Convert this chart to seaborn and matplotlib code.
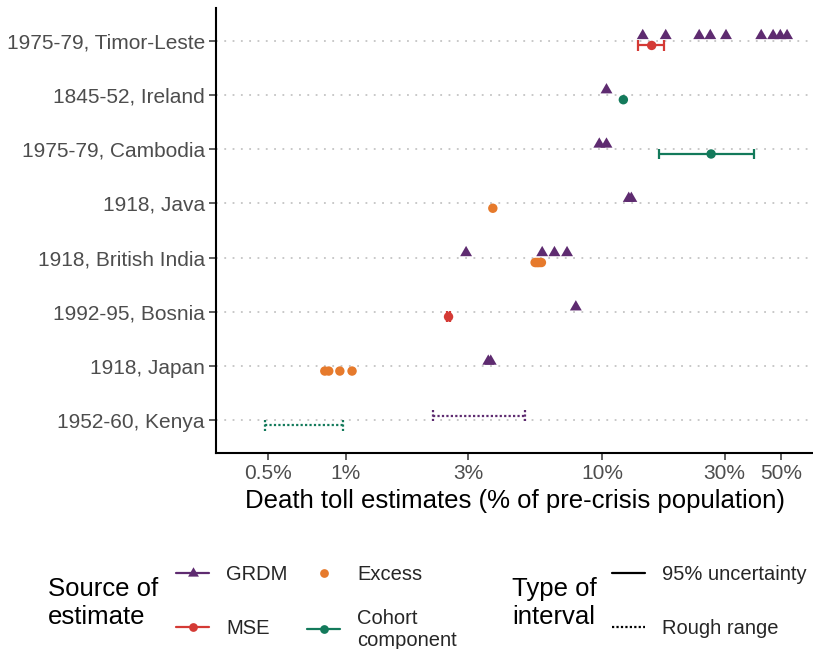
import numpy as np
import pandas as pd
import matplotlib
matplotlib.use("Agg")
import matplotlib.pyplot as plt
from matplotlib.lines import Line2D
from matplotlib.ticker import FixedLocator, FuncFormatter, NullLocator
import seaborn as sns

# ---------------- data ----------------
events = ["1975-79, Timor-Leste", "1845-52, Ireland", "1975-79, Cambodia", "1918, Java",
          "1918, British India", "1992-95, Bosnia", "1918, Japan", "1952-60, Kenya"]

source_order = ["GRDM", "Excess", "MSE", "Cohort component"]
source_colors = ["#5E2B70", "#E67A2C", "#D43A35", "#137A5B"]

# point estimates (% of pre-crisis population)
pt_event = (["1975-79, Timor-Leste"] * 9 + ["1975-79, Timor-Leste"]
            + ["1845-52, Ireland", "1845-52, Ireland"]
            + ["1975-79, Cambodia"] * 2 + ["1975-79, Cambodia"]
            + ["1918, Java"] * 2 + ["1918, Java"]
            + ["1918, British India"] * 4 + ["1918, British India"] * 5
            + ["1992-95, Bosnia", "1992-95, Bosnia"]
            + ["1918, Japan"] * 2 + ["1918, Japan"] * 4)
pt_source = (["GRDM"] * 9 + ["MSE"]
             + ["GRDM", "Cohort component"]
             + ["GRDM"] * 2 + ["Cohort component"]
             + ["GRDM"] * 2 + ["Excess"]
             + ["GRDM"] * 4 + ["Excess"] * 5
             + ["GRDM", "MSE"]
             + ["GRDM"] * 2 + ["Excess"] * 4)
pt_value = ([14.4, 17.7, 23.9, 26.4, 30.4, 41.7, 46.4, 49.5, 52.6] + [15.6]
            + [10.4, 12.1]
            + [9.75, 10.4] + [26.6]
            + [12.7, 13.0] + [3.75]
            + [2.95, 5.84, 6.52, 7.3] + [5.48, 5.55, 5.62, 5.7, 5.8]
            + [7.9, 2.52]
            + [3.6, 3.68] + [0.83, 0.86, 0.95, 1.06])

# intervals
iv_event = ["1975-79, Timor-Leste", "1975-79, Cambodia", "1992-95, Bosnia",
            "1952-60, Kenya", "1952-60, Kenya"]
iv_source = ["MSE", "Cohort component", "MSE", "GRDM", "Cohort component"]
iv_low = [13.8, 16.7, 2.49, 2.2, 0.484]
iv_high = [17.5, 39.0, 2.55, 5.0, 0.98]
iv_type = ["95% uncertainty", "95% uncertainty", "95% uncertainty", "Rough range", "Rough range"]

x_ticks = [0.5, 1, 3, 10, 30, 50]
x_tick_labels = ["0.5%", "1%", "3%", "10%", "30%", "50%"]

# ---------------- style ----------------
sns.set_theme(style="white")
plt.rcParams["font.family"] = ["Liberation Sans", "DejaVu Sans"]

palette = dict(zip(source_order, source_colors))
tri = [(0.0, 1.0), (-0.866, -0.5), (0.866, -0.5)]
dodge = {"GRDM": -0.09, "Excess": 0.09, "MSE": 0.09, "Cohort component": 0.09}

pts = pd.DataFrame({"event": pt_event, "source": pt_source, "value": pt_value})
pts["y"] = pts["event"].map({e: i for i, e in enumerate(events)}) + pts["source"].map(dodge)
ivs = pd.DataFrame({"event": iv_event, "source": iv_source, "low": iv_low,
                    "high": iv_high, "type": iv_type})
ivs["y"] = ivs["event"].map({e: i for i, e in enumerate(events)}) + ivs["source"].map(dodge)

W, H = 813, 649
fig = plt.figure(figsize=(W / 100, H / 100), dpi=100)
ax = fig.add_axes([216 / W, 1 - 453 / H, (813 - 216) / W, (453 - 8) / H])

dotted = (0, (1, 1))
for _, r in ivs.iterrows():
    ls = "-" if r["type"] == "95% uncertainty" else dotted
    c = palette[r["source"]]
    ax.hlines(r["y"], r["low"], r["high"], colors=c, linewidth=1.6, linestyles=ls, zorder=3)
    ax.vlines([r["low"], r["high"]], r["y"] - 0.1, r["y"] + 0.1, colors=c,
              linewidth=1.6, linestyles=ls, zorder=3)

g = pts[pts["source"] == "GRDM"]
o = pts[pts["source"] != "GRDM"]
sns.scatterplot(data=g, x="value", y="y", hue="source", palette=palette, marker=tri,
                s=98, linewidth=0, legend=False, ax=ax, zorder=4)
sns.scatterplot(data=o, x="value", y="y", hue="source", palette=palette, marker="o",
                s=46, linewidth=0, legend=False, ax=ax, zorder=4)

ax.set_xscale("log")
ax.set_xlim(10 ** -0.505, 10 ** 1.822)
ax.set_ylim(7.6, -0.6)
ax.xaxis.set_major_locator(FixedLocator(x_ticks))
ax.xaxis.set_major_formatter(FuncFormatter(lambda v, p: x_tick_labels[x_ticks.index(v)] if v in x_ticks else ""))
ax.xaxis.set_minor_locator(NullLocator())
ax.set_yticks(range(len(events)))
ax.set_yticklabels(events)

ax.grid(axis="y", linestyle=(0, (1, 3.6)), color="#C4C4C4", linewidth=1.3)
ax.grid(axis="x", visible=False)
ax.set_axisbelow(True)

for s in ["top", "right"]:
    ax.spines[s].set_visible(False)
for s in ["left", "bottom"]:
    ax.spines[s].set_color("black")
    ax.spines[s].set_linewidth(1.5)

ax.tick_params(axis="both", which="major", length=5, width=1.1, color="#333333",
               labelsize=15, labelcolor="#4D4D4D", pad=3, left=True, bottom=True)
ax.set_ylabel("")
ax.set_xlabel("Death toll estimates (% of pre-crisis population)", fontsize=18.5,
              color="black", labelpad=4)

# ---------------- legends ----------------
fig.text(48 / W, 1 - 603 / H, "Source of\nestimate", fontsize=18.5, ha="left",
         va="center", linespacing=1.18, color="black")
fig.text(512 / W, 1 - 603 / H, "Type of\ninterval", fontsize=18.5, ha="left",
         va="center", linespacing=1.18, color="black")


def key(handle, label, x, y):
    fig.legend(handles=[handle], labels=[label], loc="center left",
               bbox_to_anchor=(x / W, 1 - y / H), frameon=False, borderpad=0,
               borderaxespad=0, handlelength=1.65, handletextpad=0.85, fontsize=14.5,
               numpoints=1)


key(Line2D([0], [0], color=palette["GRDM"], lw=1.6, marker=tri, ms=9, mew=0), "GRDM", 176, 575)
key(Line2D([0], [0], color=palette["MSE"], lw=1.6, marker="o", ms=6.3, mew=0), "MSE", 176, 629)
key(Line2D([0], [0], color=palette["Excess"], lw=0, marker="o", ms=6.3, mew=0), "Excess", 307, 575)
key(Line2D([0], [0], color=palette["Cohort component"], lw=1.6, marker="o", ms=6.3, mew=0),
    "Cohort\ncomponent", 307, 629)
key(Line2D([0], [0], color="black", lw=1.6), "95% uncertainty", 612, 575)
key(Line2D([0], [0], color="black", lw=1.6, linestyle=dotted), "Rough range", 612, 629)

fig.savefig("out.png", dpi=100)
